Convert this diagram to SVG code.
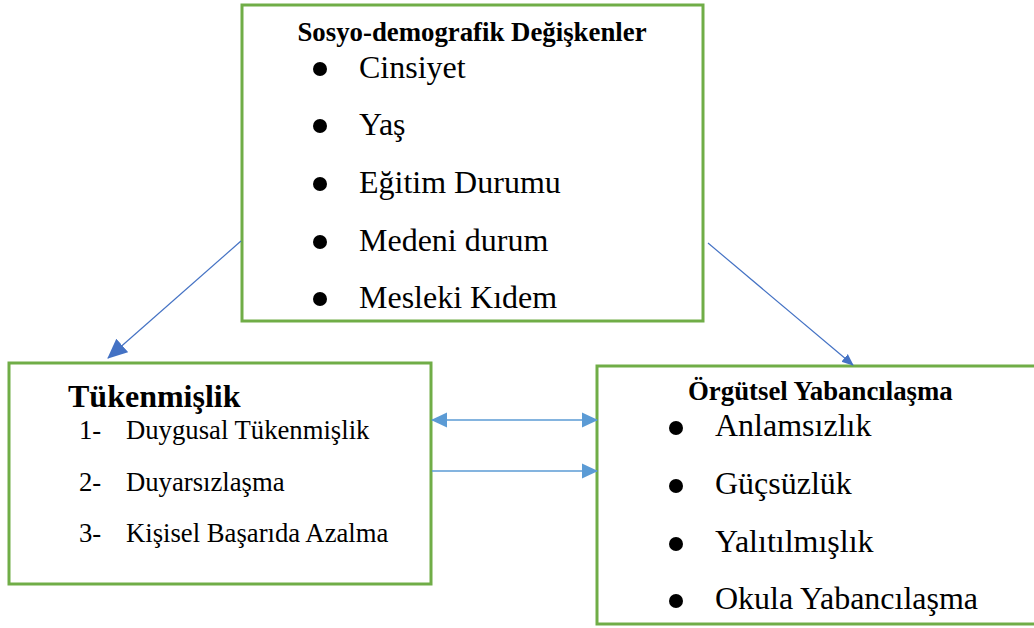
<svg xmlns="http://www.w3.org/2000/svg" width="1034" height="628" viewBox="0 0 1034 628">
<defs>
<style>
.box{fill:#fff;stroke:#70AD47;stroke-width:3}
.t{font-family:"Liberation Serif","Times New Roman",serif;fill:#000}
.h{font-weight:bold;font-size:26.8px}
.b{font-size:32px}
.n{font-size:26.7px}
.dot{fill:#000}
.c1{stroke:#4472C4;stroke-width:1.2;fill:none}
.c2{stroke:#5B9BD5;stroke-width:1.6;fill:none}
</style>
<marker id="aBig" markerUnits="userSpaceOnUse" markerWidth="20" markerHeight="20" viewBox="0 0 20 20" refX="19" refY="10" orient="auto">
<path d="M0,1 L20,10 L0,19 Z" fill="#4472C4"/>
</marker>
<marker id="aSmall" markerUnits="userSpaceOnUse" markerWidth="12" markerHeight="12" viewBox="0 0 12 12" refX="11" refY="6" orient="auto">
<path d="M0,1 L12,6 L0,11 Z" fill="#4472C4"/>
</marker>
<marker id="aEnd" markerUnits="userSpaceOnUse" markerWidth="16" markerHeight="16" viewBox="0 0 16 16" refX="15" refY="8" orient="auto">
<path d="M0,0.5 L16,8 L0,15.5 Z" fill="#5B9BD5"/>
</marker>
<marker id="aStart" markerUnits="userSpaceOnUse" markerWidth="16" markerHeight="16" viewBox="0 0 16 16" refX="1" refY="8" orient="auto">
<path d="M16,0.5 L0,8 L16,15.5 Z" fill="#5B9BD5"/>
</marker>
</defs>
<rect width="1034" height="628" fill="#fff"/>

<g id="node-sosyo">
<rect class="box" x="242" y="5" width="461" height="316"/>
<text class="t h" x="472" y="41" text-anchor="middle">Sosyo-demografik Değişkenler</text>
<circle class="dot" cx="320" cy="69" r="7"/>
<text class="t b" x="359" y="78">Cinsiyet</text>
<circle class="dot" cx="320" cy="126" r="7"/>
<text class="t b" x="359" y="135">Yaş</text>
<circle class="dot" cx="320" cy="184" r="7"/>
<text class="t b" x="359" y="193">Eğitim Durumu</text>
<circle class="dot" cx="320" cy="242" r="7"/>
<text class="t b" x="359" y="251">Medeni durum</text>
<circle class="dot" cx="320" cy="299" r="7"/>
<text class="t b" x="359" y="308">Mesleki Kıdem</text>
</g>

<g id="node-tukenmislik">
<rect class="box" x="9" y="363" width="422" height="221"/>
<text class="t" x="68" y="407" font-weight="bold" font-size="32">Tükenmişlik</text>
<text class="t n" x="79" y="439">1-</text>
<text class="t n" x="126" y="439">Duygusal Tükenmişlik</text>
<text class="t n" x="79" y="491">2-</text>
<text class="t n" x="126" y="491">Duyarsızlaşma</text>
<text class="t n" x="79" y="542">3-</text>
<text class="t n" x="126" y="542">Kişisel Başarıda Azalma</text>
</g>

<g id="node-orgutsel">
<rect class="box" x="597" y="366" width="445" height="258"/>
<text class="t h" x="688" y="400">Örgütsel Yabancılaşma</text>
<circle class="dot" cx="676" cy="428" r="7"/>
<text class="t b" x="715" y="436">Anlamsızlık</text>
<circle class="dot" cx="676" cy="486" r="7"/>
<text class="t b" x="715" y="494">Güçsüzlük</text>
<circle class="dot" cx="676" cy="544" r="7"/>
<text class="t b" x="715" y="552">Yalıtılmışlık</text>
<circle class="dot" cx="676" cy="601" r="7"/>
<text class="t b" x="715" y="609">Okula Yabancılaşma</text>
</g>

<g id="connectors">
<line class="c1" x1="241" y1="241" x2="108" y2="358" marker-end="url(#aBig)"/>
<line class="c1" x1="708" y1="243" x2="853" y2="365" marker-end="url(#aSmall)"/>
<line class="c2" x1="432" y1="420" x2="597" y2="420" marker-start="url(#aStart)" marker-end="url(#aEnd)"/>
<line class="c2" x1="432" y1="471" x2="597" y2="471" marker-end="url(#aEnd)"/>
</g>
</svg>
